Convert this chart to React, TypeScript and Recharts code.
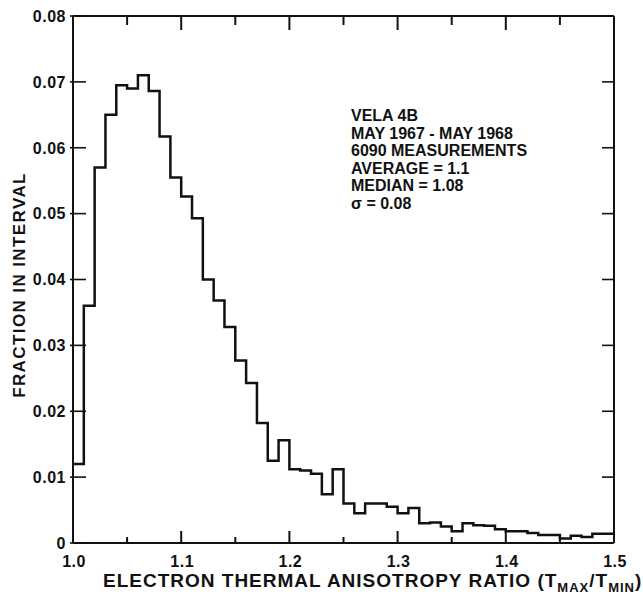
import { ComposedChart, Line, XAxis, YAxis, Label } from 'recharts';

// bin edges of the histogram (ratio T_max / T_min)
const binEdges = [
  1.0, 1.01, 1.02, 1.03, 1.04, 1.05, 1.06, 1.07, 1.08, 1.09,
  1.1, 1.11, 1.12, 1.13, 1.14, 1.15, 1.16, 1.17, 1.18, 1.19,
  1.2, 1.21, 1.22, 1.23, 1.24, 1.25, 1.26, 1.27, 1.28, 1.29,
  1.3, 1.31, 1.32, 1.33, 1.34, 1.35, 1.36, 1.37, 1.38, 1.39,
  1.4, 1.41, 1.42, 1.43, 1.44, 1.45, 1.46, 1.47, 1.48, 1.49,
  1.5,
];

// fraction of measurements in each bin
const fraction = [
  0.012, 0.036, 0.057, 0.065, 0.0695, 0.069, 0.071, 0.0686, 0.0617, 0.0555,
  0.0526, 0.0493, 0.04, 0.0368, 0.0328, 0.0277, 0.0243, 0.0182, 0.0125, 0.0156,
  0.0112, 0.011, 0.0105, 0.0074, 0.0112, 0.006, 0.0045, 0.006, 0.006, 0.0055,
  0.0045, 0.0053, 0.003, 0.0031, 0.0025, 0.0018, 0.003, 0.0027, 0.0026, 0.0021,
  0.0018, 0.0018, 0.0015, 0.0012, 0.0012, 0.0007, 0.0011, 0.0009, 0.0014, 0.0014,
];

const xTicks = [1.0, 1.05, 1.1, 1.15, 1.2, 1.25, 1.3, 1.35, 1.4, 1.45, 1.5];
const xMajorTicks = [1.0, 1.1, 1.2, 1.3, 1.4, 1.5];
const yTicks = [0, 0.01, 0.02, 0.03, 0.04, 0.05, 0.06, 0.07, 0.08];

const notes = [
  'VELA 4B',
  'MAY 1967 - MAY 1968',
  '6090 MEASUREMENTS',
  'AVERAGE = 1.1',
  'MEDIAN = 1.08',
  'σ = 0.08',
];

const data = binEdges.map((edge, i) => ({
  ratio: edge,
  fraction: fraction[Math.min(i, fraction.length - 1)],
}));

const INK = '#111';
const FONT = '"Liberation Sans", Arial, sans-serif';

const isMajor = (v: number) => xMajorTicks.some((m) => Math.abs(m - v) < 1e-6);

function BottomTick({ x, y, payload }: any) {
  const v = payload.value;
  const major = isMajor(v);
  return (
    <g>
      <line x1={x} x2={x} y1={y} y2={y - (major ? 12 : 6)} stroke={INK} strokeWidth={2} />
      {major && (
        <text x={x + 1} y={y + 24} textAnchor="middle" fill={INK} fontFamily={FONT} fontWeight="bold" fontSize={16} letterSpacing={0.5}>
          {v.toFixed(1)}
        </text>
      )}
    </g>
  );
}

function TopTick({ x, y, payload }: any) {
  const major = isMajor(payload.value);
  return <line x1={x} x2={x} y1={y} y2={y + (major ? 14 : 9)} stroke={INK} strokeWidth={2} />;
}

function LeftTick({ x, y, payload }: any) {
  const v = payload.value;
  return (
    <g>
      <line x1={x - 3} x2={x + 13} y1={y} y2={y} stroke={INK} strokeWidth={1.6} />
      <text x={x - 7} y={y} dy="0.36em" textAnchor="end" fill={INK} fontFamily={FONT} fontWeight="bold" fontSize={16} letterSpacing={0.5}>
        {v === 0 ? '0' : v.toFixed(2)}
      </text>
    </g>
  );
}

function RightTick({ x, y }: any) {
  return <line x1={x} x2={x - 12} y1={y} y2={y} stroke={INK} strokeWidth={1.6} />;
}

export default function App() {
  return (
    <div style={{ position: 'absolute', left: 0, top: 0, width: 643, height: 596, background: '#fff' }}>
      <ComposedChart width={643} height={596} data={data} margin={{ top: 0, right: 0, bottom: 0, left: 0 }}>
        <XAxis
          dataKey="ratio"
          type="number"
          domain={[1.0, 1.5]}
          ticks={xTicks}
          interval={0}
          height={53}
          tickSize={0}
          tickMargin={0}
          tickLine={false}
          axisLine={{ stroke: INK, strokeWidth: 2 }}
          tick={(p: any) => <BottomTick {...p} />}
        >
          <Label
            content={() => (
              <text x={103} y={587} fill={INK} fontFamily={FONT} fontWeight="bold" fontSize={19} letterSpacing={1}>
                ELECTRON THERMAL ANISOTROPY RATIO (T
                <tspan dy={5} fontSize={13}>MAX</tspan>
                <tspan dy={-5}>/T</tspan>
                <tspan dy={5} fontSize={13}>MIN</tspan>
                <tspan dy={-5}>)</tspan>
              </text>
            )}
          />
        </XAxis>
        <XAxis
          xAxisId="top"
          orientation="top"
          dataKey="ratio"
          type="number"
          domain={[1.0, 1.5]}
          ticks={xTicks}
          interval={0}
          height={16}
          tickSize={0}
          tickMargin={0}
          tickLine={false}
          axisLine={{ stroke: INK, strokeWidth: 2 }}
          tick={(p: any) => <TopTick {...p} />}
        />
        <YAxis
          type="number"
          domain={[0, 0.08]}
          ticks={yTicks}
          interval={0}
          width={73}
          tickSize={0}
          tickMargin={0}
          tickLine={false}
          axisLine={{ stroke: INK, strokeWidth: 2 }}
          tick={(p: any) => <LeftTick {...p} />}
        >
          <Label
            content={() => (
              <text
                transform="translate(19,285) rotate(-90)"
                textAnchor="middle"
                dy="0.36em"
                fill={INK}
                fontFamily={FONT}
                fontWeight="bold"
                fontSize={17}
                letterSpacing={1.4}
              >
                FRACTION IN INTERVAL
              </text>
            )}
          />
        </YAxis>
        <YAxis
          yAxisId="right"
          orientation="right"
          type="number"
          domain={[0, 0.08]}
          ticks={yTicks}
          interval={0}
          width={29}
          tickSize={0}
          tickMargin={0}
          tickLine={false}
          axisLine={{ stroke: INK, strokeWidth: 2 }}
          tick={(p: any) => <RightTick {...p} />}
        />
        <Line
          xAxisId="top"
          yAxisId="right"
          dataKey="fraction"
          stroke="none"
          dot={false}
          activeDot={false}
          isAnimationActive={false}
        />
        <Line
          type="stepAfter"
          dataKey="fraction"
          stroke={INK}
          strokeWidth={2.5}
          dot={false}
          activeDot={false}
          isAnimationActive={false}
        />
      </ComposedChart>
      <div
        style={{
          position: 'absolute',
          left: 351,
          top: 107,
          fontFamily: FONT,
          fontWeight: 'bold',
          fontSize: 16,
          lineHeight: '17.5px',
          color: INK,
          whiteSpace: 'nowrap',
        }}
      >
        {notes.map((n) => (
          <div key={n}>{n}</div>
        ))}
      </div>
    </div>
  );
}
